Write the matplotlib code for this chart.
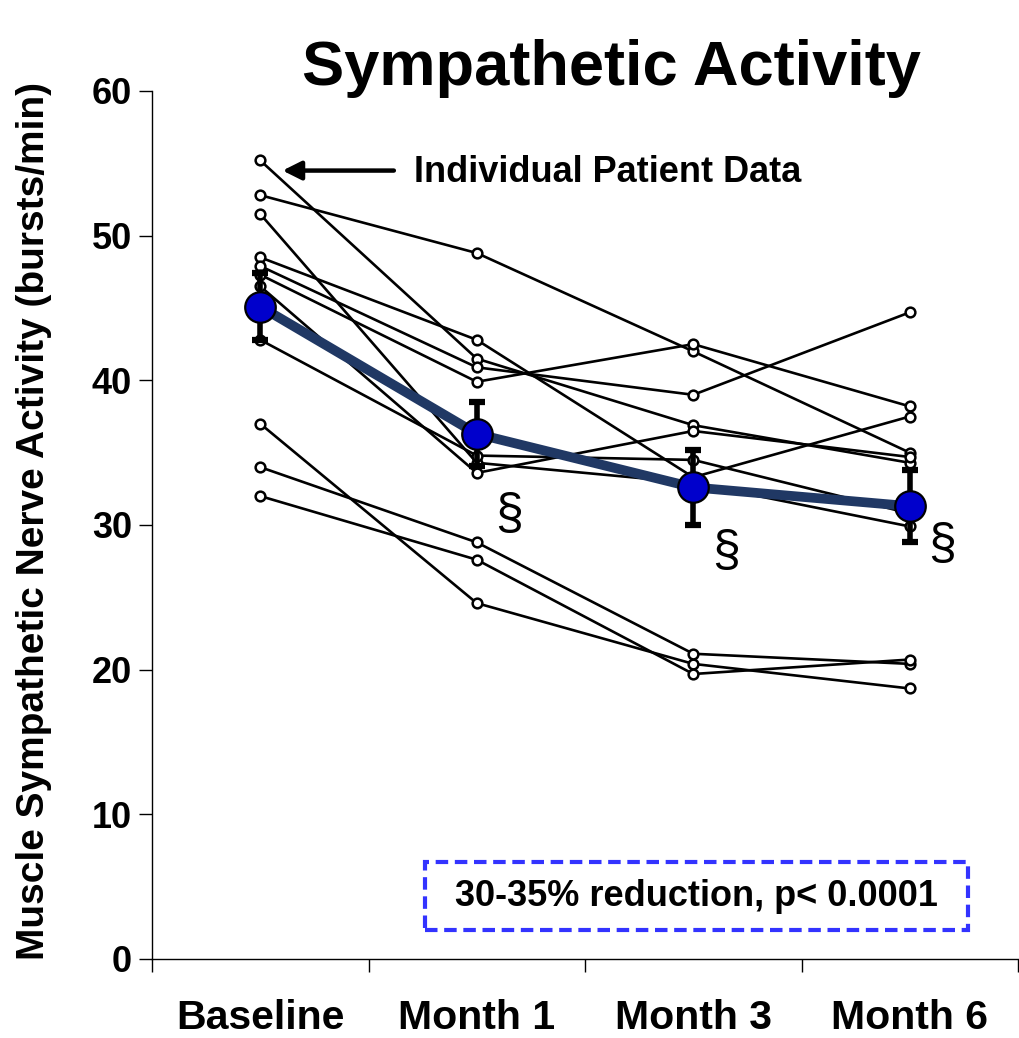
import matplotlib
matplotlib.use("Agg")
import matplotlib.pyplot as plt
import matplotlib.patches as mpatches

plt.rcParams['font.family'] = ['Liberation Sans', 'DejaVu Sans']

visits = ['Baseline', 'Month 1', 'Month 3', 'Month 6']

# individual patients, MSNA (bursts/min) at each visit
patients = [
    [55.2, 41.5, 36.9, 34.3],
    [52.8, 48.8, 42.0, 35.0],
    [51.5, 34.3, 32.9, 29.9],
    [48.5, 42.8, 33.3, 37.5],
    [47.9, 40.9, 39.0, 44.7],
    [47.3, 39.9, 42.5, 38.2],
    [46.5, 33.6, 36.5, 34.7],
    [42.8, 34.8, 34.5, 30.8],
    [37.0, 24.6, 20.4, 18.7],
    [34.0, 28.8, 21.1, 20.4],
    [32.0, 27.6, 19.7, 20.7],
]

# group mean and SEM
mean_msna = [45.1, 36.3, 32.6, 31.3]
sem_msna = [2.3, 2.2, 2.6, 2.5]
sig_marks = ['', '§', '§', '§']

x = list(range(len(visits)))

fig = plt.figure(figsize=(10.19, 10.38), dpi=100)
ax = fig.add_axes([152/1019, 79/1038, 866/1019, 868/1038])

# patient lines
for p in patients:
    ax.plot(x, p, color='black', lw=1.9, marker='o', ms=7,
            mfc='white', mec='black', mew=1.8, zorder=2)

# mean line + error bars + dots
ax.plot(x, mean_msna, color='#203864', lw=7, zorder=3, solid_capstyle='round')
ax.errorbar(x, mean_msna, yerr=sem_msna, fmt='none', ecolor='black',
            elinewidth=4, capsize=6, capthick=4.5, zorder=4)
ax.plot(x, mean_msna, ls='none', marker='o', ms=22, mfc='#0000CC',
        mec='black', mew=1.6, zorder=5)

# significance marks
sig_y = [0, 30.7, 28.1, 28.6]
for i, s in enumerate(sig_marks):
    if s:
        ax.text(i + 0.15, sig_y[i], s, fontsize=36, ha='center', va='center', zorder=6)

# arrow + label
ax.annotate('', xy=(0.09, 54.5), xytext=(0.63, 54.5),
            arrowprops=dict(arrowstyle='-|>', lw=3.2, color='black', mutation_scale=28))
ax.text(0.71, 54.4, 'Individual Patient Data', fontsize=26, fontweight='bold',
        ha='left', va='center')

# result box
box = mpatches.Rectangle((0.76, 2.0), 2.51, 4.7, fill=False, ec='#3333FF',
                         lw=3, ls=(0, (3, 1.6)), zorder=6)
ax.add_patch(box)
ax.text(2.015, 4.35, '30-35% reduction, p< 0.0001', fontsize=26, fontweight='bold',
        ha='center', va='center')

# axes
ax.set_xlim(-0.5, 3.5)
ax.set_ylim(0, 60)
ax.set_yticks(range(0, 61, 10))
ax.set_xticks(x)
ax.set_xticklabels(visits, fontsize=29.5, fontweight='bold')
ax.set_xticks([-0.5, 0.5, 1.5, 2.5, 3.5], minor=True)
ax.tick_params(axis='x', which='major', length=0, pad=29)
ax.tick_params(axis='x', which='minor', length=9.5, width=1, direction='out')
ax.tick_params(axis='y', length=9.5, width=1, direction='out', labelsize=26, pad=5)
for lab in ax.get_yticklabels():
    lab.set_fontweight('bold')
ax.spines['top'].set_visible(False)
ax.spines['right'].set_visible(False)
ax.spines['left'].set_linewidth(1)
ax.spines['bottom'].set_linewidth(1)

ax.set_ylabel('Muscle Sympathetic Nerve Activity (bursts/min)', fontsize=28,
              fontweight='bold')
ax.yaxis.set_label_coords(-100/866, 0.505)

fig.text(611/1019, 1 - 68/1038, 'Sympathetic Activity', fontsize=45.5,
         fontweight='bold', ha='center', va='center')

fig.savefig('out.png', dpi=100)
